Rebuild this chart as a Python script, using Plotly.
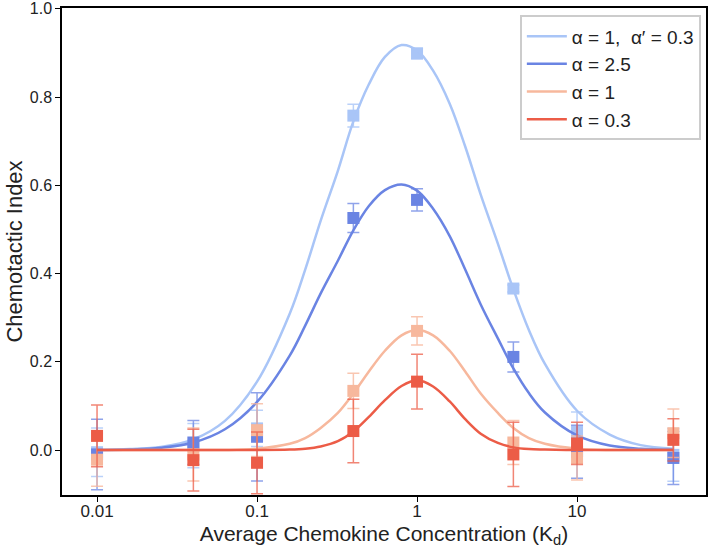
import plotly.graph_objects as go

# ---- data ----
conc = [0.01, 0.04, 0.1, 0.4, 1, 4, 10, 40]
names = ["α = 1,  α′ = 0.3", "α = 2.5", "α = 1", "α = 0.3"]
colors = ["#a9c5f7", "#6a84e3", "#f7b89d", "#ec5c47"]
err_colors = ["rgba(169,197,247,0.8)", "rgba(106,132,227,0.75)", "rgba(247,184,157,0.8)", "rgba(236,92,71,0.75)"]

pts_light_blue = [-0.005, 0.010, 0.049, 0.758, 0.899, 0.366, 0.041, -0.011]
pts_dark_blue = [-0.010, 0.017, 0.030, 0.526, 0.567, 0.211, -0.004, -0.018]
pts_light_orange = [-0.022, -0.010, 0.045, 0.134, 0.270, 0.017, -0.018, 0.038]
pts_red = [0.032, -0.023, -0.029, 0.043, 0.155, -0.010, 0.015, 0.023]

err_light_blue = [0.055, 0.050, 0.041, 0.026, 0.012, 0.008, 0.045, 0.060]
err_dark_blue = [0.080, 0.050, 0.100, 0.033, 0.025, 0.034, 0.060, 0.060]
err_light_orange = [0.060, 0.060, 0.060, 0.040, 0.032, 0.050, 0.050, 0.055]
err_red = [0.070, 0.070, 0.070, 0.072, 0.062, 0.073, 0.048, 0.048]

curve_x = [0.01, 0.016, 0.025, 0.04, 0.063, 0.1, 0.16, 0.2, 0.25, 0.32, 0.4, 0.5, 0.63, 0.8,
           1, 1.26, 1.6, 2, 2.5, 3.2, 4, 5, 6.3, 10, 16, 25, 40]
curve_light_blue = [0.000, 0.002, 0.007, 0.024, 0.066, 0.155, 0.309, 0.409, 0.520, 0.633, 0.745, 0.829,
                    0.891, 0.918, 0.906, 0.860, 0.785, 0.688, 0.579, 0.468, 0.364, 0.272, 0.195,
                    0.089, 0.035, 0.011, 0.003]
curve_dark_blue = [0.000, 0.001, 0.005, 0.017, 0.047, 0.109, 0.214, 0.282, 0.355, 0.429, 0.498, 0.553,
                   0.589, 0.602, 0.588, 0.547, 0.485, 0.409, 0.330, 0.253, 0.185, 0.129, 0.085,
                   0.033, 0.010, 0.003, 0.001]
curve_light_orange = [0.000, 0.000, 0.000, 0.000, 0.000, 0.003, 0.014, 0.027, 0.050, 0.084, 0.128, 0.178,
                      0.225, 0.260, 0.272, 0.260, 0.225, 0.178, 0.128, 0.084, 0.050, 0.027, 0.014,
                      0.003, 0.000, 0.000, 0.000]
curve_red = [0.000, 0.000, 0.000, 0.000, 0.000, 0.000, 0.001, 0.003, 0.008, 0.020, 0.042, 0.075,
             0.113, 0.145, 0.158, 0.144, 0.110, 0.070, 0.037, 0.016, 0.006, 0.002, 0.001,
             0.000, 0.000, 0.000, 0.000]

x_tick_vals = [0.01, 0.1, 1, 10]
x_tick_text = ["0.01", "0.1", "1", "10"]
y_tick_vals = [0.0, 0.2, 0.4, 0.6, 0.8, 1.0]
y_tick_text = ["0.0", "0.2", "0.4", "0.6", "0.8", "1.0"]

curves = [curve_light_blue, curve_dark_blue, curve_light_orange, curve_red]
points = [pts_light_blue, pts_dark_blue, pts_light_orange, pts_red]
errors = [err_light_blue, err_dark_blue, err_light_orange, err_red]

fig = go.Figure()
for i in range(4):
    fig.add_trace(go.Scatter(
        x=conc, y=points[i], mode="markers",
        marker=dict(symbol="square", size=12, color=colors[i]),
        error_y=dict(type="data", array=errors[i], color=err_colors[i], thickness=1.5, width=6),
        showlegend=False, hoverinfo="skip"))
    fig.add_trace(go.Scatter(
        x=curve_x, y=curves[i], mode="lines", name=names[i],
        line=dict(color=colors[i], width=2.5, shape="spline", smoothing=1.0)))

fig.update_layout(
    width=714, height=554,
    margin=dict(l=62, r=8, t=8, b=59),
    paper_bgcolor="white", plot_bgcolor="white",
    font=dict(family="Liberation Sans, Arial, sans-serif", color="#222222"),
    legend=dict(x=0.992, y=0.985, xanchor="right", yanchor="top",
                bgcolor="white", bordercolor="#cccccc", borderwidth=2,
                font=dict(size=19, color="#222222"), tracegroupgap=0, itemwidth=40),
    showlegend=True,
)
fig.update_xaxes(
    type="log", range=[-2.219, 1.806], automargin=False,
    tickvals=x_tick_vals, ticktext=x_tick_text,
    showline=True, linecolor="black", linewidth=1.5, mirror=True,
    ticks="outside", ticklen=5, tickcolor="black", tickwidth=1.2,
    ticklabelstandoff=-5,
    showgrid=False, zeroline=False,
    tickfont=dict(size=17),
    title=dict(text="Average Chemokine Concentration (K<sub>d</sub>)", font=dict(size=21), standoff=6),
)
fig.update_yaxes(
    range=[-0.102, 1.002], automargin=False,
    tickvals=y_tick_vals, ticktext=y_tick_text,
    showline=True, linecolor="black", linewidth=1.5, mirror=True,
    ticks="outside", ticklen=5, tickcolor="black", tickwidth=1.2,
    showgrid=False, zeroline=False,
    tickfont=dict(size=16),
    title=dict(text="Chemotactic Index", font=dict(size=22), standoff=1),
)

fig.write_html("out.html", config={"displayModeBar": False},
               post_script="document.body.style.margin='0';")
